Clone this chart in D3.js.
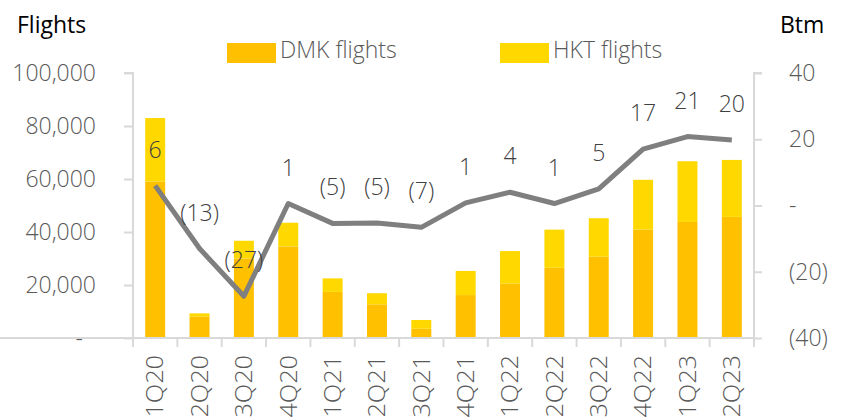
<!DOCTYPE html>
<html>
<head>
<meta charset="utf-8">
<script src="https://cdn.jsdelivr.net/npm/d3@7"></script>
<style>
  body { margin: 0; background: #fff; }
  svg text { font-family: "Open Sans", "Noto Sans", sans-serif; font-weight: 300; }
</style>
</head>
<body>
<svg id="chart" width="849" height="419"></svg>
<script>
// quarters on the x axis
var quarters = ["1Q20","2Q20","3Q20","4Q20","1Q21","2Q21","3Q21","4Q21","1Q22","2Q22","3Q22","4Q22","1Q23","2Q23"];
// flights
var dmkFlights = [59000, 8000, 30000, 34500, 17400, 12700, 3500, 16200, 20500, 26500, 30700, 40900, 43800, 45700];
var hktFlights = [24000, 1300, 6700, 9000, 5100, 4200, 3300, 9100, 12300, 14400, 14500, 18800, 22900, 21500];
// profit line, Btm
var profitBtm = [6, -13, -27.4, 0.6, -5.4, -5.3, -6.6, 0.8, 4, 0.6, 5, 17, 20.8, 19.8];
// axis ticks
var leftTicks = [0, 20000, 40000, 60000, 80000, 100000];
var rightTicks = [-40, -20, 0, 20, 40];

var dmkColor = "#FFC000",
    hktColor = "#FFD800",
    lineColor = "#7F7F7F",
    axisColor = "#D9D9D9",
    tickText = "#595959",
    labelText = "#404040",
    fontSize = 23;

var svg = d3.select("#chart");

var x = d3.scaleBand().domain(quarters).range([133, 754]);
var yLeft = d3.scaleLinear().domain([0, 100000]).range([338, 73]);
var yRight = d3.scaleLinear().domain([-40, 40]).range([338, 73]);
var barW = x.bandwidth() * 0.45;

function bracket(v) {
    if (v === 0) return "-";
    return v < 0 ? "(" + d3.format(",")(-v) + ")" : d3.format(",")(v);
}

// bars
var bars = svg.append("g");
bars.selectAll("rect.dmk")
    .data(quarters)
    .enter().append("rect")
    .attr("class", "dmk")
    .attr("x", function(d){ return x(d) + (x.bandwidth() - barW) / 2; })
    .attr("y", function(d, i){ return yLeft(dmkFlights[i]); })
    .attr("width", barW)
    .attr("height", function(d, i){ return yLeft(0) - yLeft(dmkFlights[i]); })
    .attr("fill", dmkColor);

bars.selectAll("rect.hkt")
    .data(quarters)
    .enter().append("rect")
    .attr("class", "hkt")
    .attr("x", function(d){ return x(d) + (x.bandwidth() - barW) / 2; })
    .attr("y", function(d, i){ return yLeft(dmkFlights[i] + hktFlights[i]); })
    .attr("width", barW)
    .attr("height", function(d, i){ return yLeft(dmkFlights[i]) - yLeft(dmkFlights[i] + hktFlights[i]); })
    .attr("fill", hktColor);

// left axis
var leftAxis = svg.append("g")
    .attr("transform", "translate(133,0)")
    .call(d3.axisLeft(yLeft).tickValues(leftTicks).tickSize(9).tickPadding(28)
          .tickFormat(function(d){ return d === 0 ? "-" : d3.format(",")(d); }));

// right axis
var rightAxis = svg.append("g")
    .attr("transform", "translate(754,0)")
    .call(d3.axisRight(yRight).tickValues(rightTicks).tickSize(8).tickPadding(27)
          .tickFormat(bracket));

// bottom axis
var bottomAxis = svg.append("g")
    .attr("transform", "translate(0,338)")
    .call(d3.axisBottom(x).tickSize(0).tickFormat(""));

[leftAxis, rightAxis, bottomAxis].forEach(function(g){
    g.selectAll(".domain").attr("stroke", axisColor).attr("stroke-width", 2);
    g.selectAll(".tick line").attr("stroke", axisColor).attr("stroke-width", 2);
    g.selectAll(".tick text")
        .attr("fill", tickText)
        .style("font-size", fontSize + "px")
        .style("font-family", "'Open Sans', sans-serif")
        .style("font-weight", 300);
});
leftAxis.select(".domain").attr("d", "M-9," + yLeft(100000) + "H0V" + yLeft(0));
rightAxis.select(".domain").attr("d", "M8," + yRight(40) + "H0V" + yRight(-40));
rightAxis.selectAll(".tick text").attr("text-anchor", "start");
leftAxis.selectAll(".tick text").filter(function(d){ return d === 0; }).attr("dx", -13);
bottomAxis.select(".domain").attr("d", "M-9,0H754");

// tick marks between the quarters
svg.append("g").selectAll("line")
    .data(quarters.concat(["end"]))
    .enter().append("line")
    .attr("x1", function(d, i){ return x.range()[0] + i * x.step(); })
    .attr("x2", function(d, i){ return x.range()[0] + i * x.step(); })
    .attr("y1", 338)
    .attr("y2", 347)
    .attr("stroke", axisColor)
    .attr("stroke-width", 2);

// rotated quarter labels
svg.append("g").selectAll("text")
    .data(quarters)
    .enter().append("text")
    .attr("transform", function(d){
        return "translate(" + (x(d) + x.bandwidth() / 2) + ",355) rotate(-90) scale(1.1,1)";
    })
    .attr("text-anchor", "end")
    .attr("dy", "0.36em")
    .attr("fill", tickText)
    .style("font-size", fontSize + "px")
    .text(function(d){ return d; });

// profit line
var line = d3.line()
    .x(function(d, i){ return x(quarters[i]) + x.bandwidth() / 2; })
    .y(function(d){ return yRight(d); });

svg.append("path")
    .datum(profitBtm)
    .attr("d", line)
    .attr("fill", "none")
    .attr("stroke", lineColor)
    .attr("stroke-width", 5)
    .attr("stroke-linejoin", "round");

// data labels
svg.append("g").selectAll("text")
    .data(profitBtm)
    .enter().append("text")
    .attr("x", function(d, i){ return x(quarters[i]) + x.bandwidth() / 2; })
    .attr("y", function(d){ return yRight(d) - 28; })
    .attr("text-anchor", "middle")
    .attr("fill", labelText)
    .style("font-size", fontSize + "px")
    .text(function(d){ return bracket(Math.round(d)); });

// axis titles
svg.append("text").attr("x", 17).attr("y", 33)
    .attr("fill", "#000").style("font-size", fontSize + "px").style("font-weight", 400).text("Flights");
svg.append("text").attr("x", 780).attr("y", 33)
    .attr("fill", "#000").style("font-size", fontSize + "px").style("font-weight", 400).text("Btm");

// legend
var legendItems = [
    { name: "DMK flights", color: dmkColor, x: 227 },
    { name: "HKT flights", color: hktColor, x: 500 }
];
var legend = svg.append("g").selectAll("g")
    .data(legendItems)
    .enter().append("g")
    .attr("transform", function(d){ return "translate(" + d.x + ",0)"; });
legend.append("rect")
    .attr("y", 43).attr("width", 49).attr("height", 20)
    .attr("fill", function(d){ return d.color; });
legend.append("text")
    .attr("x", 53).attr("y", 58)
    .attr("fill", tickText)
    .style("font-size", fontSize + "px")
    .text(function(d){ return d.name; });
</script>
</body>
</html>
